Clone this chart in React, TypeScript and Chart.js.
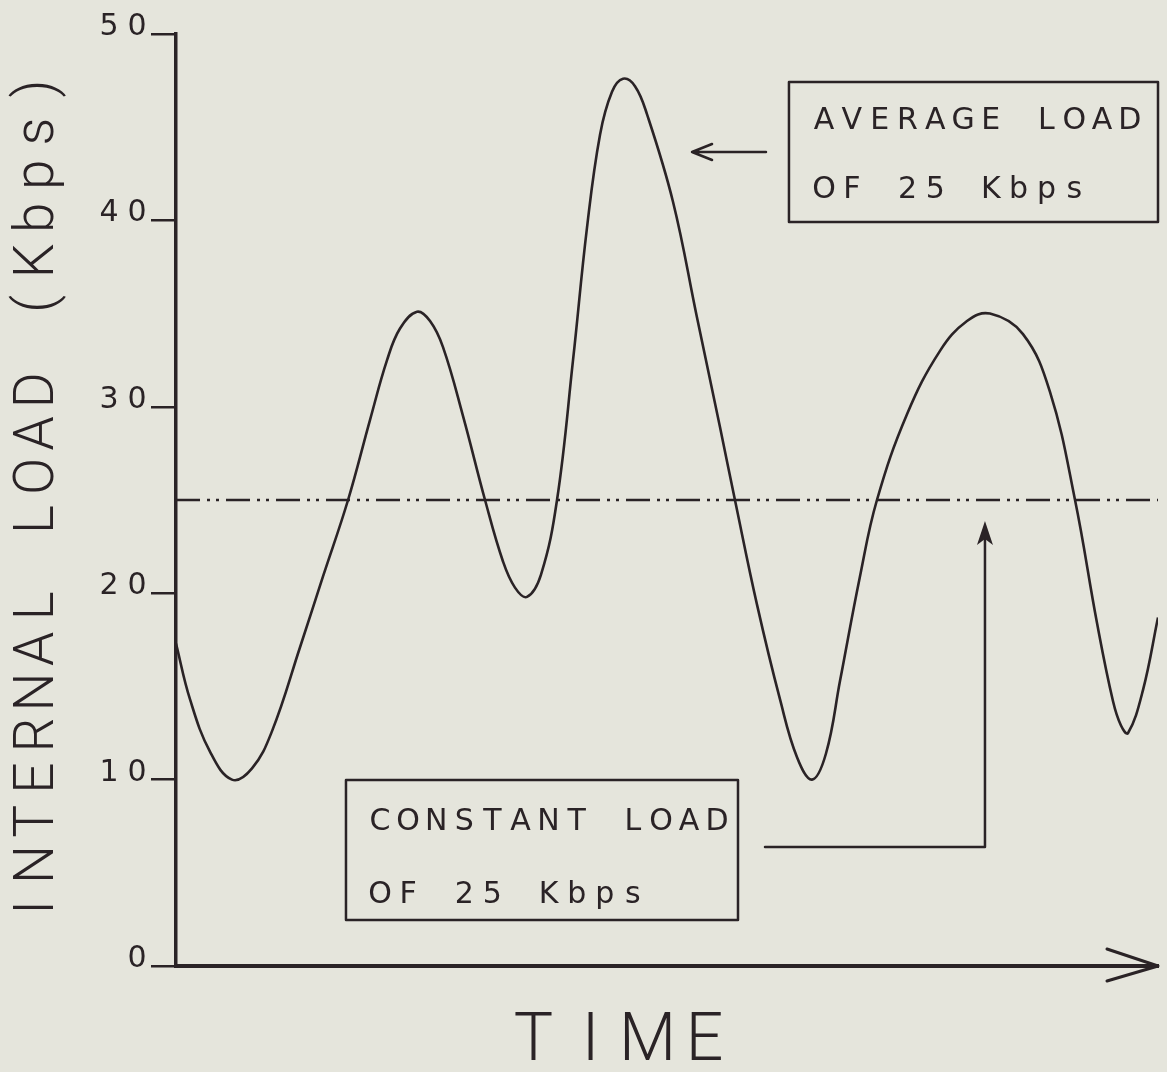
import React, { useEffect, useRef } from "react";
import { Chart, registerables } from "chart.js";

Chart.register(...registerables);

// ---- data (time in arbitrary units 0..100, load in Kbps) ----
const timeValues = [
  0, 1.43, 3.46, 5.7, 7.74, 9.78, 12.63, 14.97, 17.52, 19.76, 21.49, 22.81,
  24.54, 25.87, 27.19, 29.23, 31.47, 33.3, 34.52, 35.74, 37.17, 38.8, 40.43,
  41.85, 43.18, 44.4, 45.52, 46.74, 47.96, 50.61, 53.05, 55.4, 56.92, 59.16,
  61.51, 63.24, 64.77, 66.19, 67.62, 69.65, 71.38, 74.44, 77.8, 80.55, 82.89,
  86.25, 89.0, 91.55, 93.79, 95.42, 96.23, 96.95, 98.47, 100,
];
const loadValues = [
  17.3, 14.3, 11.5, 10.0, 10.6, 12.6, 17.1, 20.9, 25.0, 29.3, 32.5, 34.2,
  35.1, 34.6, 33.2, 29.5, 25.0, 21.7, 20.3, 19.8, 21.0, 25.0, 32.5,
  39.6, 44.6, 46.9, 47.6, 47.2, 45.7, 41.0, 34.8, 28.9, 25.0, 19.4,
  14.3, 11.2, 10.0, 11.4, 15.3, 20.9, 25.0, 29.6, 33.0, 34.6, 35.0,
  33.9, 30.8, 25.0, 18.4, 14.2, 12.9, 12.5, 14.8, 18.7,
];
const constantTime = [0, 100];
const constantLoad = [25, 25];
const yTickLabels = ["0", "10", "20", "30", "40", "50"];
const xAxisTitle = "TIME";
const yAxisTitle = "INTERNAL LOAD (Kbps)";
const averageLabel = ["AVERAGE LOAD", "OF 25 Kbps"];
const constantLabel = ["CONSTANT LOAD", "OF 25 Kbps"];

// ---- styling / layout (data-space anchors for annotations) ----
const INK = "#2a2326";
const BG = "#e5e5dc";
const SMALL_FONT = '30px "DejaVu Sans"';
const YTITLE_FONT = '300 55px Roboto, "DejaVu Sans"';
const XTITLE_FONT = '300 66px Roboto, "DejaVu Sans"';

const avgBox = { x1: 62.42, x2: 100, y1: 47.43, y2: 39.91 };
const avgText = { x: 65.99, lines: [44.9, 41.2], pitch: 27.8 };
const avgArrow = { from: 60.08, to: 52.55, y: 43.67 };
const constBox = { x1: 17.31, x2: 57.23, y1: 9.98, y2: 2.47 };
const constText = { x: 20.77, lines: [7.3, 3.38], pitch: 28.1 };
const constArrow = { x0: 59.98, y0: 6.38, x1: 82.38, tipY: 23.87 };

function spaced(ctx: CanvasRenderingContext2D, text: string, cx0: number, y: number, pitch: number) {
  for (let i = 0; i < text.length; i++) {
    const ch = text[i];
    if (ch !== " ") ctx.fillText(ch, cx0 + i * pitch, y);
  }
}

const decorPlugin = {
  id: "decor",
  beforeDraw(chart: any) {
    const { ctx, width, height } = chart;
    ctx.save();
    ctx.fillStyle = BG;
    ctx.fillRect(0, 0, width, height);
    ctx.restore();
  },
  afterDraw(chart: any) {
    const { ctx } = chart;
    const xs = chart.scales.x;
    const ys = chart.scales.y;
    const X = (v: number) => xs.getPixelForValue(v);
    const Y = (v: number) => ys.getPixelForValue(v);
    ctx.save();
    ctx.fillStyle = INK;
    ctx.strokeStyle = INK;
    ctx.lineCap = "round";
    ctx.lineJoin = "round";

    // y tick labels (from the axis' own ticks)
    ctx.font = SMALL_FONT;
    ctx.textAlign = "center";
    ctx.textBaseline = "alphabetic";
    const lastCenter = ys.right - 39;
    ys.ticks.forEach((t: any) => {
      const lab = String(t.label);
      const start = lastCenter - (lab.length - 1) * 28;
      spaced(ctx, lab, start, Y(t.value) + 1, 28);
    });

    // x axis arrow head
    const ex = X(100);
    const ey = Y(0);
    ctx.lineWidth = 3;
    ctx.beginPath();
    ctx.moveTo(ex - 51, ey - 17);
    ctx.lineTo(ex, ey);
    ctx.lineTo(ex - 51, ey + 15);
    ctx.stroke();

    // average load box + text + arrow
    ctx.lineWidth = 2.5;
    ctx.strokeRect(X(avgBox.x1), Y(avgBox.y1), X(avgBox.x2) - X(avgBox.x1), Y(avgBox.y2) - Y(avgBox.y1));
    averageLabel.forEach((line, i) => spaced(ctx, line, X(avgText.x), Y(avgText.lines[i]), avgText.pitch));
    const ay = Y(avgArrow.y);
    ctx.beginPath();
    ctx.moveTo(X(avgArrow.from), ay);
    ctx.lineTo(X(avgArrow.to), ay);
    ctx.moveTo(X(avgArrow.to) + 20, ay - 8);
    ctx.lineTo(X(avgArrow.to), ay);
    ctx.lineTo(X(avgArrow.to) + 20, ay + 8);
    ctx.stroke();

    // constant load box + text + connector arrow
    ctx.strokeRect(X(constBox.x1), Y(constBox.y1), X(constBox.x2) - X(constBox.x1), Y(constBox.y2) - Y(constBox.y1));
    constantLabel.forEach((line, i) => spaced(ctx, line, X(constText.x), Y(constText.lines[i]), constText.pitch));
    const cx1 = X(constArrow.x1);
    const tip = Y(constArrow.tipY);
    ctx.beginPath();
    ctx.moveTo(X(constArrow.x0), Y(constArrow.y0));
    ctx.lineTo(cx1, Y(constArrow.y0));
    ctx.lineTo(cx1, tip + 10);
    ctx.stroke();
    ctx.beginPath();
    ctx.moveTo(cx1, tip);
    ctx.lineTo(cx1 - 8, tip + 24);
    ctx.lineTo(cx1, tip + 18);
    ctx.lineTo(cx1 + 8, tip + 24);
    ctx.closePath();
    ctx.fill();

    // axis titles
    ctx.font = XTITLE_FONT;
    ctx.textAlign = "center";
    const tPitch = 57;
    const tCenter = 619;
    spaced(ctx, xAxisTitle, tCenter - ((xAxisTitle.length - 1) / 2) * tPitch, 1060, tPitch);

    ctx.save();
    ctx.translate(33, (ys.top + ys.bottom) / 2 - 2);
    ctx.rotate(-Math.PI / 2);
    ctx.font = YTITLE_FONT;
    const yPitch = 43.1;
    spaced(ctx, yAxisTitle, -((yAxisTitle.length - 1) / 2) * yPitch, 20, yPitch);
    ctx.restore();

    ctx.restore();
  },
};

export default function App() {
  const ref = useRef<HTMLCanvasElement | null>(null);
  useEffect(() => {
    document.body.style.margin = "0";
    document.body.style.background = BG;
    const canvas = ref.current;
    if (!canvas) return;
    const chart = new Chart(canvas, {
      type: "line",
      data: {
        datasets: [
          {
            label: "Average load",
            data: timeValues.map((t, i) => ({ x: t, y: loadValues[i] })),
            borderColor: INK,
            borderWidth: 2.6,
            pointRadius: 0,
            fill: false,
            tension: 0.4,
          },
          {
            label: "Constant load",
            data: constantTime.map((t, i) => ({ x: t, y: constantLoad[i] })),
            borderColor: INK,
            borderWidth: 2.6,
            borderDash: [24, 7, 3, 6, 3, 7],
            pointRadius: 0,
            fill: false,
          },
        ],
      },
      options: {
        animation: false,
        responsive: false,
        devicePixelRatio: 1,
        events: [],
        layout: { padding: { top: 34, right: 9, left: 0, bottom: 0 } },
        plugins: { legend: { display: false }, tooltip: { enabled: false }, title: { display: false } },
        scales: {
          x: {
            type: "linear",
            min: 0,
            max: 100,
            grid: { display: false },
            border: { display: true, color: INK, width: 4 },
            ticks: { display: false },
            afterFit: (s: any) => {
              s.height = 106;
            },
          },
          y: {
            type: "linear",
            min: 0,
            max: 50,
            ticks: {
              display: false,
              stepSize: 10,
              callback: (_v: any, i: number) => yTickLabels[i],
            },
            grid: {
              display: true,
              drawOnChartArea: false,
              drawTicks: true,
              tickLength: 25,
              color: INK,
              lineWidth: 2.5,
            },
            border: { display: true, color: INK, width: 3.5 },
            afterFit: (s: any) => {
              s.width = 176;
            },
          },
        },
      },
      plugins: [decorPlugin],
    });
    return () => chart.destroy();
  }, []);
  return (
    <canvas
      ref={ref}
      width={1167}
      height={1072}
      style={{ display: "block", width: "1167px", height: "1072px" }}
    />
  );
}
